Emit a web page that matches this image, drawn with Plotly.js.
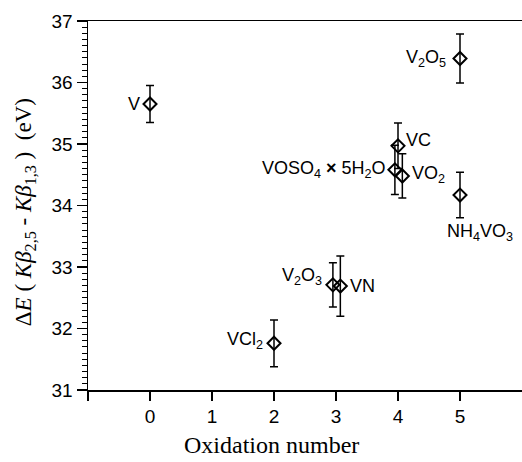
<!DOCTYPE html>
<html>
<head>
<meta charset="utf-8">
<script src="https://cdn.plot.ly/plotly-3.0.1.min.js"></script>
<style>html,body{margin:0;padding:0;background:#fff;}</style>
</head>
<body>
<div id="chart" style="width:522px;height:462px;"></div>
<script>
// Data
const compounds = ["V", "VCl<sub>2</sub>", "V<sub>2</sub>O<sub>3</sub>", "VN", "VOSO<sub>4</sub> <b>×</b> 5H<sub>2</sub>O", "VC", "VO<sub>2</sub>", "V<sub>2</sub>O<sub>5</sub>", "NH<sub>4</sub>VO<sub>3</sub>"];
const oxidation = [0, 2, 2.95, 3.07, 3.95, 4.0, 4.07, 5, 5];
const deltaE = [35.65, 31.76, 32.71, 32.69, 34.58, 34.97, 34.48, 36.39, 34.17];
const deltaErr = [0.30, 0.38, 0.36, 0.49, 0.40, 0.37, 0.36, 0.40, 0.37];
const xTickVals = [-1, 0, 1, 2, 3, 4, 5];
const xTickText = ["", "0", "1", "2", "3", "4", "5"];
const xTitle = "Oxidation number";
const yTitle = "Δ<i>E</i> ( <i>Kβ</i><sub>2,5</sub> - <i>Kβ</i><sub>1,3</sub> )  (eV)";

// label placement (style only)
const labelStyle = [
  {xanchor: "right", yanchor: "middle", xshift: -8, yshift: 0},
  {xanchor: "right", yanchor: "middle", xshift: -9, yshift: 3},
  {xanchor: "right", yanchor: "middle", xshift: -9, yshift: 8},
  {xanchor: "left", yanchor: "middle", xshift: 8, yshift: 0},
  {xanchor: "right", yanchor: "middle", xshift: -7, yshift: 0},
  {xanchor: "left", yanchor: "middle", xshift: 6, yshift: 6},
  {xanchor: "left", yanchor: "middle", xshift: 8, yshift: 1},
  {xanchor: "right", yanchor: "middle", xshift: -12, yshift: 0},
  {xanchor: "left", yanchor: "top", xshift: -15, yshift: -24}
];

const annotations = compounds.map((c, i) => Object.assign({
  x: oxidation[i], y: deltaE[i], xref: "x", yref: "y",
  text: c, showarrow: false,
  font: {family: "Liberation Sans, Arial, sans-serif", size: 18, color: "#000"}
}, labelStyle[i]));

annotations.push({
  x: 0.4217, y: -0.149, xref: "paper", yref: "paper",
  xanchor: "center", yanchor: "middle", showarrow: false,
  text: xTitle,
  font: {family: "Liberation Serif, Times New Roman, serif", size: 24, color: "#000"}
});
annotations.push({
  x: -0.145, y: 0.482, xref: "paper", yref: "paper",
  xanchor: "center", yanchor: "middle", showarrow: false, textangle: -90,
  text: yTitle,
  font: {family: "Liberation Serif, Times New Roman, serif", size: 23, color: "#000"}
});

const trace = {
  x: oxidation, y: deltaE, type: "scatter", mode: "markers",
  marker: {symbol: "diamond-open", size: 10, color: "#000", line: {width: 2, color: "#000"}},
  error_y: {type: "data", array: deltaErr, visible: true, color: "#000", thickness: 1.5, width: 4},
  hoverinfo: "skip"
};

const layout = {
  width: 522, height: 462,
  margin: {l: 88, r: 0, t: 21, b: 72},
  paper_bgcolor: "#fff", plot_bgcolor: "#fff",
  showlegend: false,
  xaxis: {
    range: [-1, 6], tickvals: xTickVals, ticktext: xTickText,
    ticks: "outside", ticklen: 9, tickwidth: 1.5, tickcolor: "#000",
    showline: true, linewidth: 1.5, linecolor: "#000", mirror: true,
    showgrid: false, zeroline: false,
    tickfont: {family: "Liberation Sans, Arial, sans-serif", size: 19, color: "#000"}
  },
  yaxis: {
    range: [31, 37], dtick: 1, tick0: 31,
    ticks: "outside", ticklen: 10, tickwidth: 1.5, tickcolor: "#000",
    minor: {dtick: 0.1, ticks: "outside", ticklen: 5, tickwidth: 1, tickcolor: "#000", showgrid: false},
    showline: true, linewidth: 1.5, linecolor: "#000", mirror: false,
    showgrid: false, zeroline: false,
    tickfont: {family: "Liberation Sans, Arial, sans-serif", size: 19, color: "#000"}
  },
  annotations: annotations
};

Plotly.newPlot("chart", [trace], layout, {staticPlot: true, displayModeBar: false});
</script>
</body>
</html>
